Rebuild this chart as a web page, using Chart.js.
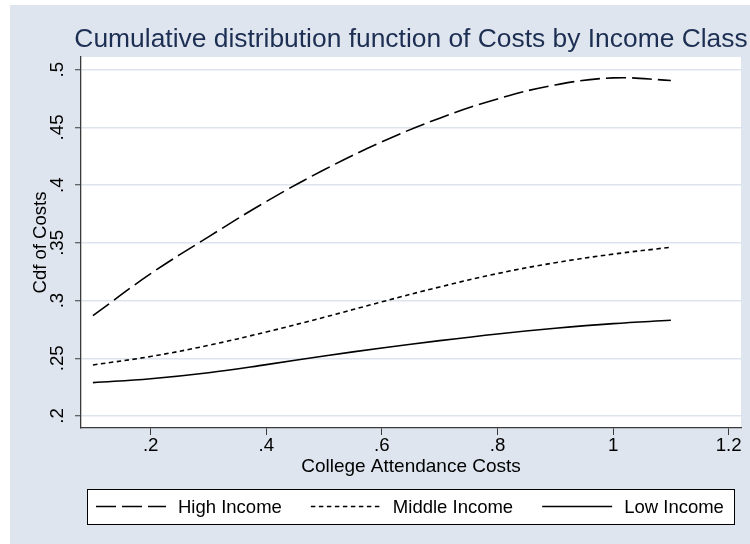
<!DOCTYPE html>
<html>
<head>
<meta charset="utf-8">
<script src="https://cdn.jsdelivr.net/npm/chart.js@4"></script>
<style>
  html, body { margin: 0; padding: 0; background: #fff; }
  #wrap { width: 750px; height: 544px; }
</style>
</head>
<body>
<div id="wrap"><canvas id="cdfChart" width="750" height="544"></canvas></div>
<script>
var costs = [0.1, 0.2, 0.3, 0.4, 0.5, 0.6, 0.7, 0.8, 0.9, 1.0, 1.1];
var highIncome = [0.2869, 0.3233, 0.3552, 0.3858, 0.4133, 0.4375, 0.458, 0.4747, 0.4868, 0.4929, 0.4907];
var middleIncome = [0.2442, 0.2516, 0.2612, 0.2728, 0.2855, 0.2989, 0.3118, 0.3234, 0.3328, 0.3402, 0.3462];
var lowIncome = [0.2289, 0.2323, 0.2375, 0.2445, 0.252, 0.2589, 0.2653, 0.2711, 0.276, 0.28, 0.2829];
var seriesNames = ['High Income', 'Middle Income', 'Low Income'];
var xTickValues = [0.2, 0.4, 0.6, 0.8, 1, 1.2];
var xTickLabels = ['.2', '.4', '.6', '.8', '1', '1.2'];
var yTickValues = [0.2, 0.25, 0.3, 0.35, 0.4, 0.45, 0.5];
var yTickLabels = ['.2', '.25', '.3', '.35', '.4', '.45', '.5'];
var chartTitle = 'Cumulative distribution function of Costs by Income Class';
var xTitle = 'College Attendance Costs';
var yTitle = 'Cdf of Costs';

(function () {
  var FONT = '"Liberation Sans", Arial, sans-serif';
  var BG = 'rgb(223,229,239)';
  var AXIS = '#3a3a3a';

  function points(vals) {
    return costs.map(function (c, i) { return { x: c, y: vals[i] }; });
  }

  function line(label, vals, dash) {
    return {
      label: label,
      data: points(vals),
      borderColor: '#000',
      borderWidth: 1.6,
      borderDash: dash,
      pointRadius: 0,
      fill: false,
      tension: 0.4
    };
  }

  // stata-like frame: bluish graph region, white plot region, title and boxed legend
  var stataFrame = {
    id: 'stataFrame',
    beforeDraw: function (chart) {
      var ctx = chart.ctx, a = chart.chartArea;
      ctx.save();
      ctx.fillStyle = BG;
      ctx.fillRect(10, 5, 740, 539);
      ctx.fillStyle = '#fff';
      ctx.fillRect(a.left, a.top, a.right - a.left, a.bottom - a.top);
      ctx.restore();
    },
    afterDraw: function (chart) {
      var ctx = chart.ctx, a = chart.chartArea;
      ctx.save();
      ctx.fillStyle = '#1c2f52';
      ctx.font = '26.4px ' + FONT;
      ctx.textAlign = 'center';
      ctx.textBaseline = 'alphabetic';
      ctx.fillText(chartTitle, (a.left + a.right) / 2, 47);

      // legend box
      ctx.fillStyle = '#fff';
      ctx.fillRect(87, 489, 647, 35);
      ctx.strokeStyle = '#000';
      ctx.lineWidth = 1;
      ctx.strokeRect(87.5, 489.5, 647, 35);

      var cy = 506.5, x = 96;
      ctx.font = '18.5px ' + FONT;
      ctx.textAlign = 'left';
      ctx.textBaseline = 'middle';
      chart.data.datasets.forEach(function (ds) {
        ctx.setLineDash(ds.borderDash || []);
        ctx.lineWidth = ds.borderWidth;
        ctx.beginPath();
        ctx.moveTo(x, cy);
        ctx.lineTo(x + 70, cy);
        ctx.stroke();
        ctx.setLineDash([]);
        ctx.fillStyle = '#000';
        ctx.fillText(ds.label, x + 82, cy + 1);
        x += 82 + ctx.measureText(ds.label).width + 29;
      });
      ctx.restore();
    }
  };

  var ctx = document.getElementById('cdfChart').getContext('2d');
  new Chart(ctx, {
    type: 'line',
    data: {
      datasets: [
        line(seriesNames[0], highIncome, [20, 6]),
        line(seriesNames[1], middleIncome, [4.5, 3.5]),
        line(seriesNames[2], lowIncome, [])
      ]
    },
    options: {
      responsive: false,
      animation: false,
      devicePixelRatio: 1,
      layout: { padding: { top: 57, right: 9, bottom: 0, left: 0 } },
      plugins: {
        legend: { display: false },
        title: { display: false },
        tooltip: { enabled: false }
      },
      scales: {
        x: {
          type: 'linear',
          min: 0.0794,
          max: 1.2213,
          afterBuildTicks: function (s) { s.ticks = xTickValues.map(function (v) { return { value: v }; }); },
          afterFit: function (s) { s.height = 116; },
          ticks: {
            autoSkip: false,
            maxRotation: 0,
            padding: 0,
            color: '#000',
            font: { family: FONT, size: 18.7 },
            callback: function (v) { return xTickLabels[xTickValues.indexOf(v)]; }
          },
          grid: { drawOnChartArea: false, tickLength: 7, tickColor: AXIS, tickWidth: 1 },
          border: { color: AXIS, width: 1.3 },
          title: {
            display: true,
            text: xTitle,
            color: '#000',
            font: { family: FONT, size: 19 },
            padding: { top: 0, bottom: 65.6 }
          }
        },
        y: {
          min: 0.1896,
          max: 0.511,
          afterBuildTicks: function (s) { s.ticks = yTickValues.map(function (v) { return { value: v }; }); },
          afterFit: function (s) { s.width = 81; },
          ticks: {
            autoSkip: false,
            minRotation: 90,
            maxRotation: 90,
            crossAlign: 'center',
            padding: 4.5,
            color: '#000',
            font: { family: FONT, size: 18.7 },
            callback: function (v) { return yTickLabels[yTickValues.indexOf(v)]; }
          },
          grid: { color: '#dde4ee', lineWidth: 1.5, tickLength: 6, tickColor: AXIS, tickWidth: 1 },
          border: { color: AXIS, width: 1.3 },
          title: {
            display: true,
            text: yTitle,
            color: '#000',
            font: { family: FONT, size: 18.5 },
            padding: { top: 29.4, bottom: 0 }
          }
        }
      }
    },
    plugins: [stataFrame]
  });
})();
</script>
</body>
</html>
